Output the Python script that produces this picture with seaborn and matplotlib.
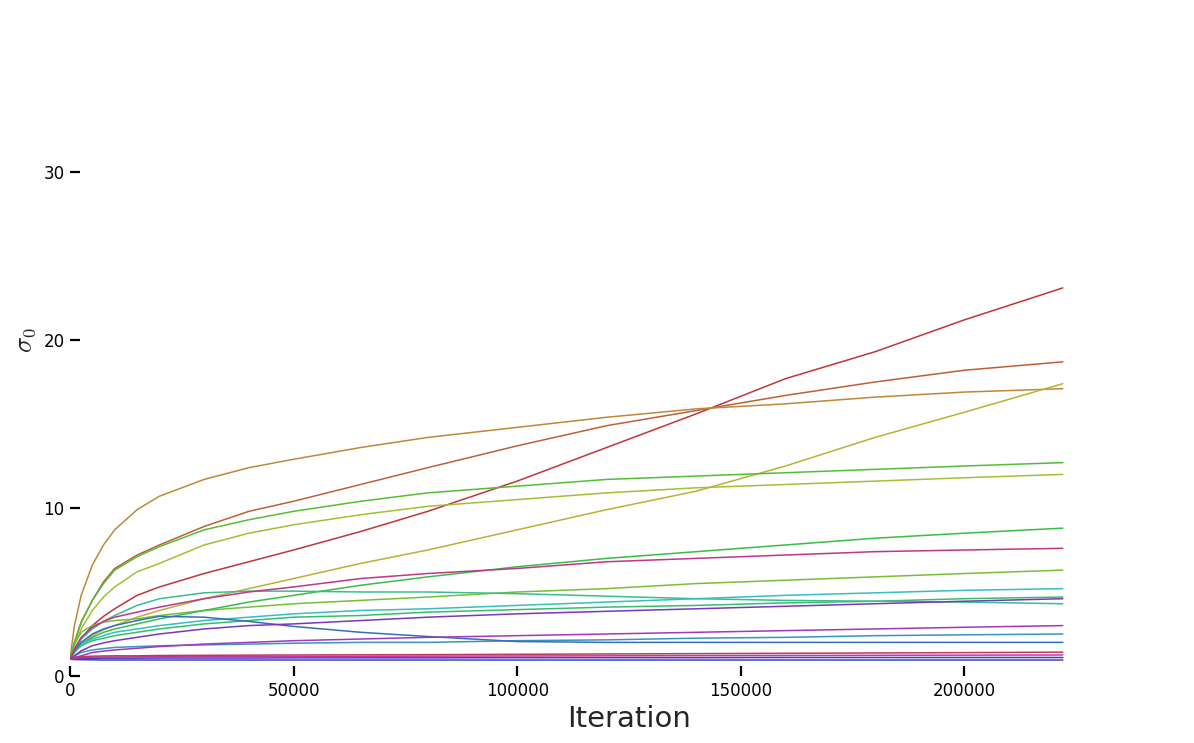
import pandas as pd
import numpy as np
import matplotlib
matplotlib.use("Agg")
import matplotlib.pyplot as plt
import seaborn as sns

iterations = [0, 1000, 2500, 5000, 7500, 10000, 15000, 20000, 30000, 40000, 50000,
              65000, 80000, 100000, 120000, 140000, 160000, 180000, 200000, 222000]

# one list per layer, ordered by hue
s00 = [1.0, 1.5, 2.2, 3.0, 3.55, 4.0, 4.8, 5.3, 6.1, 6.8, 7.5, 8.6, 9.8, 11.6, 13.6, 15.6, 17.7, 19.3, 21.2, 23.1]
s01 = [1.0, 2.0, 3.2, 4.5, 5.6, 6.4, 7.2, 7.8, 8.9, 9.8, 10.4, 11.4, 12.4, 13.7, 14.9, 15.8, 16.7, 17.5, 18.2, 18.7]
s02 = [1.0, 3.0, 4.8, 6.6, 7.8, 8.7, 9.9, 10.7, 11.7, 12.4, 12.9, 13.6, 14.2, 14.8, 15.4, 15.9, 16.2, 16.6, 16.9, 17.1]
s03 = [1.0, 1.4, 1.9, 2.4, 2.75, 3.0, 3.5, 3.9, 4.6, 5.2, 5.8, 6.7, 7.5, 8.7, 9.9, 11.0, 12.5, 14.2, 15.7, 17.4]
s04 = [1.0, 1.8, 2.8, 3.9, 4.7, 5.3, 6.2, 6.7, 7.8, 8.5, 9.0, 9.6, 10.1, 10.5, 10.9, 11.2, 11.4, 11.6, 11.8, 12.0]
s05 = [1.0, 1.9, 2.6, 3.0, 3.2, 3.3, 3.4, 3.6, 3.9, 4.1, 4.3, 4.5, 4.7, 5.0, 5.2, 5.5, 5.7, 5.9, 6.1, 6.3]
s06 = [1.0, 2.0, 3.2, 4.5, 5.5, 6.3, 7.1, 7.7, 8.7, 9.3, 9.8, 10.4, 10.9, 11.3, 11.7, 11.9, 12.1, 12.3, 12.5, 12.7]
s07 = [1.0, 1.5, 1.9, 2.3, 2.6, 2.8, 3.1, 3.4, 3.9, 4.4, 4.8, 5.4, 5.9, 6.5, 7.0, 7.4, 7.8, 8.2, 8.5, 8.8]
s08 = [1.0, 1.4, 1.8, 2.1, 2.25, 2.4, 2.6, 2.8, 3.1, 3.3, 3.5, 3.6, 3.8, 3.95, 4.1, 4.2, 4.35, 4.45, 4.6, 4.7]
s09 = [1.0, 1.6, 2.2, 2.8, 3.25, 3.6, 4.2, 4.6, 4.95, 5.05, 5.05, 5.0, 5.0, 4.9, 4.75, 4.6, 4.5, 4.45, 4.4, 4.3]
s10 = [1.0, 1.5, 1.9, 2.2, 2.4, 2.6, 2.8, 3.0, 3.3, 3.5, 3.7, 3.9, 4.0, 4.2, 4.4, 4.6, 4.8, 4.95, 5.1, 5.2]
s11 = [1.0, 1.2, 1.4, 1.55, 1.63, 1.7, 1.75, 1.8, 1.85, 1.9, 1.95, 2.0, 2.0, 2.1, 2.15, 2.25, 2.3, 2.4, 2.45, 2.5]
s12 = [1.0, 1.5, 2.0, 2.5, 2.8, 3.0, 3.3, 3.55, 3.5, 3.25, 2.95, 2.6, 2.35, 2.05, 2.0, 2.0, 2.0, 2.0, 2.0, 2.0]
s13 = [1.0, 0.98, 0.97, 0.96, 0.95, 0.95, 0.95, 0.95, 0.95, 0.95, 0.95, 0.95, 0.95, 0.95, 0.95, 0.95, 0.95, 0.95, 0.95, 0.95]
s14 = [1.0, 1.02, 1.04, 1.05, 1.06, 1.06, 1.06, 1.07, 1.07, 1.07, 1.08, 1.08, 1.08, 1.09, 1.09, 1.09, 1.1, 1.1, 1.1, 1.1]
s15 = [1.0, 1.2, 1.5, 1.8, 1.97, 2.1, 2.3, 2.5, 2.8, 3.0, 3.1, 3.3, 3.5, 3.7, 3.85, 4.0, 4.15, 4.3, 4.45, 4.6]
s16 = [1.0, 1.1, 1.2, 1.4, 1.48, 1.55, 1.65, 1.75, 1.9, 2.0, 2.1, 2.2, 2.3, 2.4, 2.5, 2.6, 2.7, 2.8, 2.9, 3.0]
s17 = [1.0, 1.05, 1.1, 1.12, 1.13, 1.13, 1.14, 1.15, 1.15, 1.16, 1.16, 1.17, 1.18, 1.19, 1.2, 1.21, 1.22, 1.23, 1.24, 1.25]
s18 = [1.0, 1.6, 2.3, 2.9, 3.25, 3.5, 3.8, 4.1, 4.6, 5.0, 5.3, 5.8, 6.1, 6.4, 6.8, 7.0, 7.2, 7.4, 7.5, 7.6]
s19 = [1.0, 1.1, 1.15, 1.18, 1.19, 1.2, 1.2, 1.22, 1.23, 1.24, 1.25, 1.26, 1.27, 1.29, 1.31, 1.33, 1.35, 1.37, 1.39, 1.42]

layers = [s00, s01, s02, s03, s04, s05, s06, s07, s08, s09,
          s10, s11, s12, s13, s14, s15, s16, s17, s18, s19]

x_ticks = [0, 50000, 100000, 150000, 200000]
y_ticks = [0, 10, 20, 30]

# long form table for seaborn
rows = []
for i, vals in enumerate(layers):
    for it, v in zip(iterations, vals):
        rows.append({"layer": i, "Iteration": it, "sigma": v})
df = pd.DataFrame(rows)

sns.set_style("white")
plt.rcParams["mathtext.fontset"] = "cm"
palette = sns.hls_palette(len(layers), h=0.0, l=0.48, s=0.55)

fig = plt.figure(figsize=(11.94, 7.43), dpi=100)
ax = fig.add_axes([0.0586, 0.0902, 0.9364, 0.9044])

sns.lineplot(data=df, x="Iteration", y="sigma", hue="layer", palette=palette,
             linewidth=1.1, legend=False, ax=ax)

ax.set_xlim(0, 250000)
ax.set_ylim(0, 40)
ax.set_xticks(x_ticks)
ax.set_yticks(y_ticks)
ax.tick_params(direction="in", length=7, width=1.6, labelsize=12,
               colors="black", pad=4, bottom=True, left=True)
for sp in ax.spines.values():
    sp.set_visible(False)

ax.set_xlabel("Iteration", fontsize=21, color="#262626")
ax.set_ylabel(r"$\sigma_0$", fontsize=19, color="#262626")

fig.savefig("out.png", dpi=100)
